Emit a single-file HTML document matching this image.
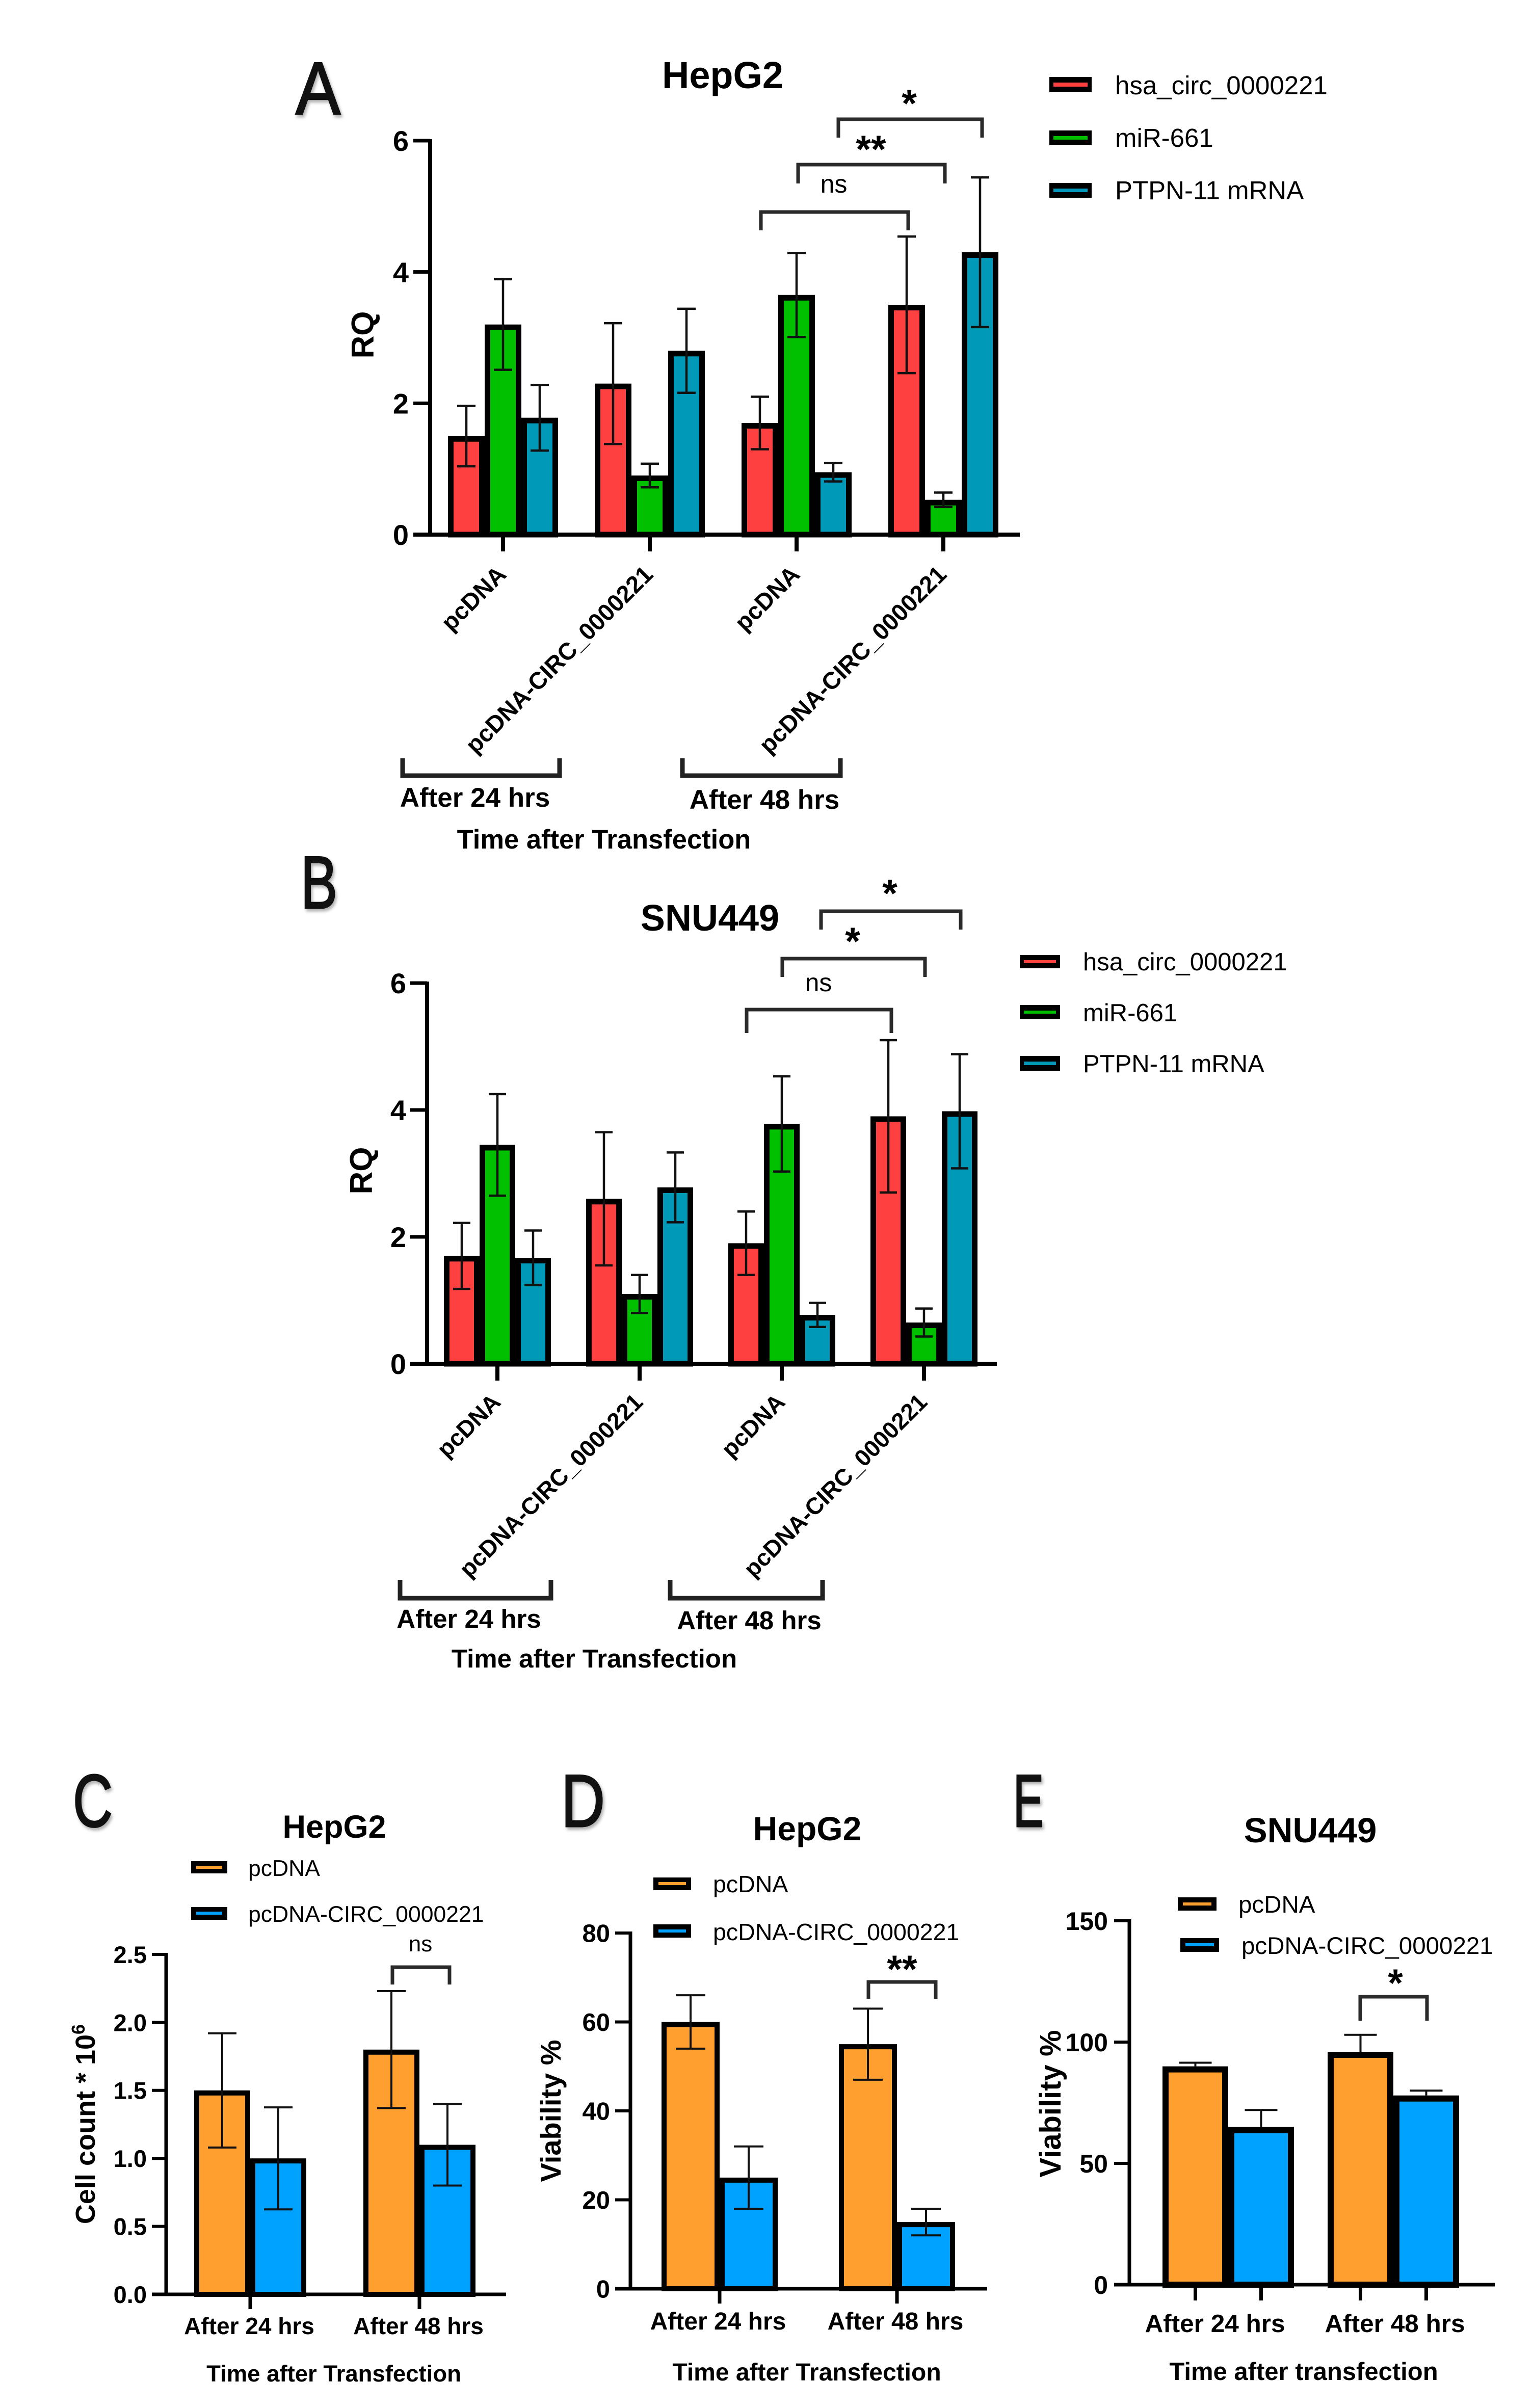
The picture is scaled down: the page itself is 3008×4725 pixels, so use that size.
<!DOCTYPE html>
<html lang="en">
<head>
<meta charset="utf-8">
<title>circ_0000221 transfection panels</title>
<style>
html,body{margin:0;padding:0;background:#fff}
svg{display:block}
text{font-family:"Liberation Sans",sans-serif;fill:#000}
.b{font-weight:700}
.br{fill:none;stroke:#2a2a2a;stroke-width:7}
.ub{fill:none;stroke:#222;stroke-width:9}
.letter{font-size:146px;fill:#111;stroke:#111;stroke-width:3;filter:drop-shadow(3px 5px 3px rgba(0,0,0,.3))}
</style>
</head>
<body>
<svg id="figure" xmlns="http://www.w3.org/2000/svg" width="3008" height="4725" viewBox="0 0 3008 4725">
<rect x="0" y="0" width="3008" height="4725" fill="#fff"/>

<!-- Panel A static -->
<text class="letter" x="580" y="224" textLength="88" lengthAdjust="spacingAndGlyphs">A</text>
<text class="b" x="1418" y="173" font-size="74" text-anchor="middle" textLength="238" lengthAdjust="spacingAndGlyphs">HepG2</text>
<text class="b" transform="translate(733,657) rotate(-90)" font-size="62" text-anchor="middle">RQ</text>
<g>
  <g><rect x="2059" y="151" width="83" height="30" fill="#000"/><rect x="2067" y="162" width="67" height="8" fill="#ff4040"/><text x="2188" y="185" font-size="51">hsa_circ_0000221</text></g>
  <g><rect x="2059" y="256" width="83" height="29" fill="#000"/><rect x="2067" y="267" width="67" height="7" fill="#00c000"/><text x="2188" y="288" font-size="51">miR-661</text></g>
  <g><rect x="2059" y="359" width="83" height="29" fill="#000"/><rect x="2067" y="370" width="67" height="7" fill="#0099b8"/><text x="2188" y="391" font-size="51">PTPN-11 mRNA</text></g>
</g>
<polyline class="br" points="1493,452 1493,416 1782,416 1782,452"/>
<polyline class="br" points="1566,360 1566,323 1854,323 1854,360"/>
<polyline class="br" points="1645,270 1645,234 1927,234 1927,270"/>
<text x="1636" y="378" font-size="50" text-anchor="middle">ns</text>
<text class="b" x="1709" y="319" font-size="76" text-anchor="middle">**</text>
<text class="b" x="1784" y="229" font-size="76" text-anchor="middle">*</text>
<polyline class="ub" points="790,1488 790,1522 1098,1522 1098,1488"/>
<polyline class="ub" points="1339,1488 1339,1522 1649,1522 1649,1488"/>
<text class="b" x="932" y="1583" font-size="53" text-anchor="middle">After 24 hrs</text>
<text class="b" x="1500" y="1587" font-size="53" text-anchor="middle">After 48 hrs</text>
<text class="b" x="1185" y="1665" font-size="52.5" text-anchor="middle">Time after Transfection</text>

<!-- Panel B static -->
<text class="letter" x="590" y="1782" textLength="72" lengthAdjust="spacingAndGlyphs">B</text>
<text class="b" x="1393" y="1826" font-size="72" text-anchor="middle">SNU449</text>
<text class="b" transform="translate(730,2297) rotate(-90)" font-size="62" text-anchor="middle">RQ</text>
<g>
  <g><rect x="2001" y="1874" width="79" height="26" fill="#000"/><rect x="2009" y="1884" width="63" height="6" fill="#ff4040"/><text x="2125" y="1904" font-size="49">hsa_circ_0000221</text></g>
  <g><rect x="2001" y="1972" width="79" height="28" fill="#000"/><rect x="2009" y="1983" width="63" height="6" fill="#00c000"/><text x="2125" y="2004" font-size="49">miR-661</text></g>
  <g><rect x="2001" y="2072" width="79" height="29" fill="#000"/><rect x="2009" y="2083" width="63" height="7" fill="#0099b8"/><text x="2125" y="2104" font-size="49">PTPN-11 mRNA</text></g>
</g>
<polyline class="br" points="1465,2027 1465,1981 1749,1981 1749,2027"/>
<polyline class="br" points="1535,1917 1535,1881 1815,1881 1815,1917"/>
<polyline class="br" points="1611,1824 1611,1788 1885,1788 1885,1824"/>
<text x="1606" y="1945" font-size="50" text-anchor="middle">ns</text>
<text class="b" x="1673" y="1873" font-size="76" text-anchor="middle">*</text>
<text class="b" x="1746" y="1779" font-size="76" text-anchor="middle">*</text>
<polyline class="ub" points="785,3100 785,3136 1081,3136 1081,3100"/>
<polyline class="ub" points="1315,3100 1315,3136 1614,3136 1614,3100"/>
<text class="b" x="920" y="3194" font-size="51" text-anchor="middle">After 24 hrs</text>
<text class="b" x="1470" y="3197" font-size="51" text-anchor="middle">After 48 hrs</text>
<text class="b" x="1166" y="3272" font-size="51" text-anchor="middle">Time after Transfection</text>

<!-- Panel C static -->
<text class="letter" x="143" y="3584" textLength="78" lengthAdjust="spacingAndGlyphs">C</text>
<text class="b" x="656" y="3606" font-size="63" text-anchor="middle">HepG2</text>
<text class="b" transform="translate(186,4168) rotate(-90)" font-size="54" text-anchor="middle">Cell count * 10<tspan font-size="36" dy="-20">6</tspan></text>
<g>
  <g><rect x="375" y="3652" width="71" height="24" fill="#000"/><rect x="385" y="3661" width="51" height="6" fill="#ff9f30"/><text x="487" y="3681" font-size="44.5">pcDNA</text></g>
  <g><rect x="375" y="3742" width="71" height="25" fill="#000"/><rect x="385" y="3751" width="51" height="6" fill="#00a2ff"/><text x="487" y="3771" font-size="44.5">pcDNA-CIRC_0000221</text></g>
</g>
<polyline class="br" points="770,3894 770,3860 882,3860 882,3894"/>
<text x="825" y="3829" font-size="44" text-anchor="middle">ns</text>
<text class="b" x="655" y="4673" font-size="45.5" text-anchor="middle">Time after Transfection</text>

<!-- Panel D static -->
<text class="letter" x="1101" y="3584" textLength="86" lengthAdjust="spacingAndGlyphs">D</text>
<text class="b" x="1584" y="3611" font-size="66" text-anchor="middle">HepG2</text>
<text class="b" transform="translate(1100,4142) rotate(-90)" font-size="56" text-anchor="middle">Viability %</text>
<g>
  <g><rect x="1282" y="3684" width="74" height="25" fill="#000"/><rect x="1292" y="3693" width="54" height="6" fill="#ff9f30"/><text x="1399" y="3713" font-size="46.5">pcDNA</text></g>
  <g><rect x="1282" y="3776" width="74" height="26" fill="#000"/><rect x="1292" y="3786" width="54" height="6" fill="#00a2ff"/><text x="1399" y="3807" font-size="46.5">pcDNA-CIRC_0000221</text></g>
</g>
<polyline class="br" points="1704,3922 1704,3889 1836,3889 1836,3922"/>
<text class="b" x="1770" y="3890" font-size="76" text-anchor="middle">**</text>
<text class="b" x="1583" y="4671" font-size="48" text-anchor="middle">Time after Transfection</text>

<!-- Panel E static -->
<text class="letter" x="1988" y="3584" textLength="60" lengthAdjust="spacingAndGlyphs">E</text>
<text class="b" x="2571" y="3615" font-size="69" text-anchor="middle">SNU449</text>
<text class="b" transform="translate(2081,4128) rotate(-90)" font-size="58" text-anchor="middle">Viability %</text>
<g>
  <g><rect x="2311" y="3723" width="76" height="26" fill="#000"/><rect x="2321" y="3733" width="56" height="6" fill="#ff9f30"/><text x="2430" y="3753" font-size="47.5">pcDNA</text></g>
  <g><rect x="2316" y="3803" width="76" height="27" fill="#000"/><rect x="2326" y="3813" width="56" height="6" fill="#00a2ff"/><text x="2436" y="3834" font-size="47.5">pcDNA-CIRC_0000221</text></g>
</g>
<polyline class="br" points="2669,3965 2669,3918 2800,3918 2800,3965"/>
<text class="b" x="2738" y="3917" font-size="76" text-anchor="middle">*</text>
<text class="b" x="2558" y="4670" font-size="49" text-anchor="middle">Time after transfection</text>
</svg>

<script>
// Chart data
const rqCategories = ["pcDNA", "pcDNA-CIRC_0000221", "pcDNA", "pcDNA-CIRC_0000221"];
const timeCategories = ["After 24 hrs", "After 48 hrs"];
const rqSeriesNames = ["hsa-circ", "mir-661", "ptpn-11"];
const viabilitySeriesNames = ["pcdna", "pcdna-circ"];

const rqTicks = [0, 2, 4, 6];
const cellTicks = ["0.0", "0.5", "1.0", "1.5", "2.0", "2.5"];
const viabilityDTicks = [0, 20, 40, 60, 80];
const viabilityETicks = [0, 50, 100, 150];

const aCirc = [1.5, 2.3, 1.7, 3.5];
const aMir = [3.2, 0.9, 3.65, 0.53];
const aPtpn = [1.78, 2.8, 0.95, 4.3];
const aCircErr = [0.46, 0.92, 0.4, 1.04];
const aMirErr = [0.69, 0.18, 0.64, 0.11];
const aPtpnErr = [0.5, 0.64, 0.14, 1.14];

const bCirc = [1.7, 2.6, 1.9, 3.9];
const bMir = [3.45, 1.1, 3.78, 0.65];
const bPtpn = [1.67, 2.78, 0.77, 3.98];
const bCircErr = [0.52, 1.05, 0.5, 1.2];
const bMirErr = [0.8, 0.3, 0.75, 0.22];
const bPtpnErr = [0.43, 0.55, 0.19, 0.9];

const cPcdna = [1.5, 1.8];
const cCirc = [1.0, 1.1];
const cPcdnaErr = [0.42, 0.43];
const cCircErr = [0.375, 0.3];

const dPcdna = [60, 55];
const dCirc = [25, 15];
const dPcdnaErr = [6, 8];
const dCircErr = [7, 3];

const ePcdna = [90, 96];
const eCirc = [65, 78];
const ePcdnaErr = [1.5, 7];
const eCircErr = [7, 2];

const RQ_COLORS = ["#ff4040", "#00c000", "#0099b8"];
const VIA_COLORS = ["#ff9f30", "#00a2ff"];
const NS = "http://www.w3.org/2000/svg";
const figure = document.getElementById("figure");

function mk(tag, attrs, parent) {
  const el = document.createElementNS(NS, tag);
  for (const k in attrs) el.setAttribute(k, attrs[k]);
  parent.appendChild(el);
  return el;
}

function drawPanel(p) {
  const root = mk("g", {}, figure);
  
  

  const yScale = v => p.y0 - (Number(v) / p.yMax) * (p.y0 - p.yTop);
  const groupX = i => p.firstGroup + i * p.groupStep;
  const barX = (g, s) => groupX(g) + (s - (p.series.length - 1) / 2) * p.barStep;

  // bars
  p.series.forEach((vals, s) => {
    vals.forEach((v, g) => {
      const w = p.barOuter - p.border;
      const top = yScale(v) + p.border / 2;
      const bar = mk("rect", {
        x: barX(g, s) - w / 2, y: top, width: w, height: Math.max(0, p.y0 - top),
        fill: p.colors[s], stroke: "#000", "stroke-width": p.border
      }, root);
      
      
    });
  });

  // error bars
  p.errors.forEach((errs, s) => {
    errs.forEach((e, g) => {
      const x = barX(g, s);
      const v = p.series[s][g];
      const hi = yScale(v + e);
      const lo = p.errLow ? yScale(v - e) : yScale(v);
      const eb = mk("path", {
        d: "M" + x + " " + lo + "V" + hi + "M" + (x - p.capW / 2) + " " + hi + "H" + (x + p.capW / 2) +
           (p.errLow ? "M" + (x - p.capW / 2) + " " + lo + "H" + (x + p.capW / 2) : ""),
        fill: "none", stroke: "#111", "stroke-width": p.errSW
      }, root);
      
      
    });
  });

  // y axis
  const yAxis = mk("line", { x1: p.axisX, x2: p.axisX, y1: p.yTop - 3, y2: p.y0 + 3, stroke: "#000", "stroke-width": p.axisSW }, root);
  
  

  p.ticks.forEach(t => {
    const y = yScale(t);
    const tick = mk("line", { x1: p.axisX - p.yTickLen, x2: p.axisX, y1: y, y2: y, stroke: "#000", "stroke-width": p.axisSW - 1 }, root);
    
    
    const lab = mk("text", { x: p.axisX - p.yTickLen - p.tickGap, y: y + p.tickFont * 0.36, "font-size": p.tickFont, "font-weight": 700, "text-anchor": "end" }, root);
    lab.textContent = t;
    
    
  });

  // x axis
  const xAxis = mk("line", { x1: p.xStart, x2: p.xEnd, y1: p.y0, y2: p.y0, stroke: "#000", "stroke-width": p.axisSW }, root);
  
  

  p.categories.forEach((cat, g) => {
    const tickXs = p.tickPerBar ? p.series.map((_, s) => barX(g, s)) : [groupX(g)];
    tickXs.forEach(tx => {
      const tick = mk("line", { x1: tx, x2: tx, y1: p.y0, y2: p.y0 + p.xTickLen, stroke: "#000", "stroke-width": p.axisSW }, root);
      
      
    });
    let lab;
    if (p.rotated) {
      lab = mk("text", {
        transform: "translate(" + (groupX(g) + p.rotShift) + "," + (p.y0 + p.rotDrop) + ") rotate(-45)",
        "font-size": p.rotFont, "font-weight": 700, "text-anchor": "end"
      }, root);
    } else {
      lab = mk("text", {
        x: groupX(g) + p.labelShift[g], y: p.labelY,
        "font-size": p.labelFont, "font-weight": 700, "text-anchor": "middle"
      }, root);
    }
    lab.textContent = cat;
    
    
  });
}

drawPanel({ id: "panel-a", axisX: 844, y0: 1049, yTop: 276, yMax: 6, ticks: rqTicks,
  series: [aCirc, aMir, aPtpn], errors: [aCircErr, aMirErr, aPtpnErr], seriesNames: rqSeriesNames, colors: RQ_COLORS,
  categories: rqCategories, firstGroup: 987, groupStep: 288, barStep: 72, barOuter: 72, border: 11,
  capW: 36, errSW: 4.5, errLow: true, axisSW: 8, yTickLen: 33, tickGap: 9, tickFont: 56, xStart: 811, xEnd: 2001, xTickLen: 33,
  rotated: true, rotShift: 9, rotDrop: 81, rotFont: 47 });

drawPanel({ id: "panel-b", axisX: 838, y0: 2676, yTop: 1929, yMax: 6, ticks: rqTicks,
  series: [bCirc, bMir, bPtpn], errors: [bCircErr, bMirErr, bPtpnErr], seriesNames: rqSeriesNames, colors: RQ_COLORS,
  categories: rqCategories, firstGroup: 976, groupStep: 279, barStep: 70, barOuter: 70, border: 11,
  capW: 34, errSW: 4.5, errLow: true, axisSW: 8, yTickLen: 34, tickGap: 7, tickFont: 56, xStart: 804, xEnd: 1956, xTickLen: 33,
  rotated: true, rotShift: 9, rotDrop: 78, rotFont: 46 });

drawPanel({ id: "panel-c", axisX: 326, y0: 4502, yTop: 3835, yMax: 2.5, ticks: cellTicks,
  series: [cPcdna, cCirc], errors: [cPcdnaErr, cCircErr], seriesNames: viabilitySeriesNames, colors: VIA_COLORS,
  categories: timeCategories, firstGroup: 491, groupStep: 332, barStep: 110, barOuter: 110, border: 10,
  capW: 56, errSW: 4, errLow: true, axisSW: 7, yTickLen: 28, tickGap: 10, tickFont: 47, xStart: 298, xEnd: 993, xTickLen: 29,
  rotated: false, labelY: 4580, labelFont: 46, labelShift: [-2, -2] });

drawPanel({ id: "panel-d", axisX: 1237, y0: 4491, yTop: 3793, yMax: 80, ticks: viabilityDTicks,
  series: [dPcdna, dCirc], errors: [dPcdnaErr, dCircErr], seriesNames: viabilitySeriesNames, colors: VIA_COLORS,
  categories: timeCategories, firstGroup: 1412, groupStep: 348, barStep: 114, barOuter: 114, border: 10,
  capW: 58, errSW: 4, errLow: true, axisSW: 7, yTickLen: 30, tickGap: 10, tickFont: 49, xStart: 1207, xEnd: 1937, xTickLen: 29,
  rotated: false, labelY: 4571, labelFont: 48, labelShift: [-3, -3] });

drawPanel({ id: "panel-e", axisX: 2216, y0: 4483, yTop: 3769, yMax: 150, ticks: viabilityETicks,
  series: [ePcdna, eCirc], errors: [ePcdnaErr, eCircErr], seriesNames: viabilitySeriesNames, colors: VIA_COLORS,
  categories: timeCategories, firstGroup: 2410, groupStep: 324, barStep: 129, barOuter: 129, border: 12,
  capW: 64, errSW: 4, errLow: false, axisSW: 7, yTickLen: 30, tickGap: 12, tickFont: 50, xStart: 2186, xEnd: 2933, xTickLen: 31,
  tickPerBar: true, rotated: false, labelY: 4576, labelFont: 49.5, labelShift: [-26, 3] });
</script>
</body>
</html>
